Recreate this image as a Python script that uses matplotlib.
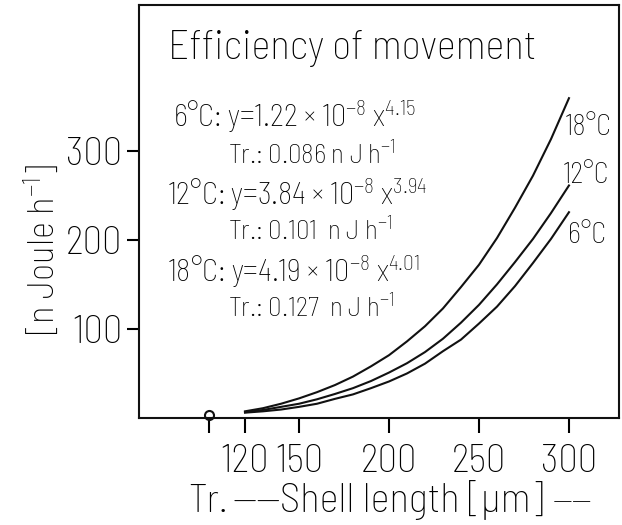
import matplotlib
matplotlib.use("Agg")
import matplotlib.pyplot as plt

# shell length [um] and energy [nJ h-1]
shell_len = [120, 130, 140, 150, 160, 170, 180, 190, 200, 210,
             220, 230, 240, 250, 260, 270, 280, 290, 300]
e_6c = [6, 7.5, 9.5, 12.5, 16, 21.5, 26.5, 33.5, 41, 50,
        61, 75, 88, 106, 125, 148, 174, 201, 231]
e_12c = [6.5, 9, 12.5, 16, 21, 27, 33.5, 41.5, 51, 61.5,
         74, 89, 107, 127, 150, 175, 201, 230, 261]
e_18c = [7.5, 11, 16, 22, 29, 37, 46.5, 58, 70.5, 86,
         103, 123, 147, 172, 202, 236, 272, 313, 359]

tr_x = [100]
tr_y = [3]

x_ticks = [100, 120, 150, 200, 250, 300]
x_ticklabels = ["", "120", "150", "200", "250", "300"]
y_ticks = [100, 200, 300]

eq_lines = [
    "6°C: y=1.22 × 10$^{-8}$ x$^{4.15}$",
    "Tr.: 0.086 n J h$^{-1}$",
    "12°C: y=3.84 × 10$^{-8}$ x$^{3.94}$",
    "Tr.: 0.101  n J h$^{-1}$",
    "18°C: y=4.19 × 10$^{-8}$ x$^{4.01}$",
    "Tr.: 0.127  n J h$^{-1}$",
]

FONT = "Barlow Semi Condensed"
plt.rcParams["font.family"] = [FONT, "DejaVu Sans"]
plt.rcParams["font.weight"] = "light"
plt.rcParams["mathtext.fontset"] = "custom"
plt.rcParams["mathtext.rm"] = FONT + ":light"
plt.rcParams["mathtext.it"] = FONT + ":light"
plt.rcParams["mathtext.bf"] = FONT

W, H = 622, 525
fig = plt.figure(figsize=(W / 100, H / 100), dpi=100)


def px(x, y):
    return x / W, 1 - y / H


ax = fig.add_axes([139 / W, 1 - 418 / H, 480 / W, 413 / H])
ax.set_xlim(61.1, 327.8)
ax.set_ylim(0, 463.6)

for s in ax.spines.values():
    s.set_linewidth(1.5)
    s.set_color("#111111")

ax.plot(shell_len, e_6c, color="#111111", lw=1.5)
ax.plot(shell_len, e_12c, color="#111111", lw=1.5)
ax.plot(shell_len, e_18c, color="#111111", lw=1.5)
ax.plot(tr_x, tr_y, "o", mfc="white", mec="#111111", ms=6.5, mew=1.5, clip_on=False)

ax.set_xticks(x_ticks)
ax.set_xticklabels(x_ticklabels)
ax.set_yticks(y_ticks)
ax.tick_params(axis="x", direction="out", length=11, width=1.5, pad=8, labelsize=28)
ax.tick_params(axis="y", direction="out", length=9, width=1.5, pad=3, labelsize=28)

# text block
fig.text(*px(168, 59), "Efficiency of movement", fontsize=29.5, ha="left", va="baseline")
starts = [173, 228, 167, 228, 167, 228]
bases = [127, 164, 205, 240, 282, 317]
sizes = [22, 19.5, 22, 19.5, 22, 19.5]
for t, x0, yb, fs in zip(eq_lines, starts, bases, sizes):
    fig.text(*px(x0, yb), t, fontsize=fs, ha="left", va="baseline")

fig.text(*px(565, 135), "18°C", fontsize=20.5, ha="left", va="baseline")
fig.text(*px(563, 183), "12°C", fontsize=20.5, ha="left", va="baseline")
fig.text(*px(568, 243), "6°C", fontsize=20.5, ha="left", va="baseline")

# x label pieces
fig.text(*px(188, 512), "Tr.", fontsize=28, ha="left", va="baseline")
fig.text(*px(232, 512), "——", fontsize=27, ha="left", va="baseline")
fig.text(*px(280, 512), "Shell length [µm]", fontsize=29.5, ha="left", va="baseline")
fig.text(*px(553, 510), "——", fontsize=22, ha="left", va="baseline")

fig.text(*px(54, 249), "[n Joule h$^{-1}$]", fontsize=26.5, rotation=90,
         rotation_mode="anchor", ha="center", va="baseline")

fig.savefig("out.png", dpi=100)
